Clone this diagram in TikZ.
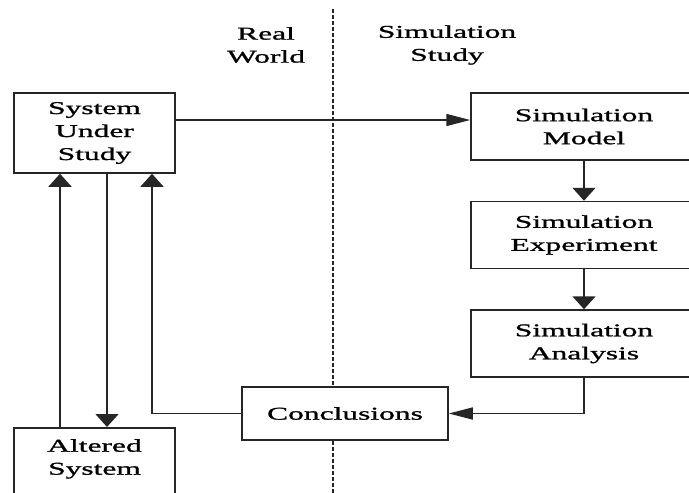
\documentclass[tikz,border=0pt]{standalone}
\usepackage{fontspec}
\setmainfont{Liberation Serif}[FakeStretch=1.75, FakeBold=1.2]
\usetikzlibrary{arrows.meta, positioning}

\begin{document}
\begin{tikzpicture}[
    x=1pt, y=-1pt,
    font=\fontsize{18}{23}\selectfont,
    box/.style={rectangle, draw=black!85, line width=1.5pt, fill=white, align=center, inner sep=0pt},
    simbox/.style={box, minimum width=226pt, minimum height=67pt},
    varrow/.style={-{Triangle[width=23pt, length=13pt]}, line width=1.5pt, draw=black!85},
    harrow/.style={-{Triangle[width=12pt, length=24pt]}, line width=1.5pt, draw=black!85},
    divider/.style={draw=black!85, line width=1.5pt, dash pattern=on 4pt off 2pt}
]

% Page frame
\useasboundingbox (0,0) rectangle (689,493);
\clip (0,0) rectangle (689,493);

% Divider between the two worlds
\draw[divider] (333,9) -- (333,493);

% Headings
\node[align=center] (real) at (266,45) {Real\\World};
\node[align=center] (simstudy) at (447,45) {Simulation\\Study};

% Main boxes
\node[box, minimum width=161pt, minimum height=80pt] (sus) at (94.5,133) {System\\Under\\Study};
\node[simbox] (model) at (584,126.5) {Simulation\\Model};
\node[simbox, below=40pt of model] (experiment) {Simulation\\Experiment};
\node[simbox, below=40pt of experiment] (analysis) {Simulation\\Analysis};
\node[box, minimum width=206pt, minimum height=53pt] (concl) at (345,413.5) {Conclusions};
\node[box, minimum width=161pt, minimum height=80pt, anchor=north] (altered) at (94.5,427) {};
\node[align=center, inner sep=0pt, below=12pt of altered.north] (alteredtext) {Altered\\System};

% Arrows
\draw[harrow] ([yshift=13pt]sus.east) -- ([yshift=13pt]sus.east -| model.west);
\draw[varrow] (model) -- (experiment);
\draw[varrow] (experiment) -- (analysis);
\draw[harrow] (analysis.south) |- (concl.east);
\draw[varrow] (concl.west) -| ([xshift=57.5pt]sus.south);
\draw[varrow] ([xshift=12.5pt]sus.south) -- ([xshift=12.5pt]altered.north);
\draw[varrow] ([xshift=-34.5pt]altered.north) -- ([xshift=-34.5pt]sus.south);

\end{tikzpicture}
\end{document}
